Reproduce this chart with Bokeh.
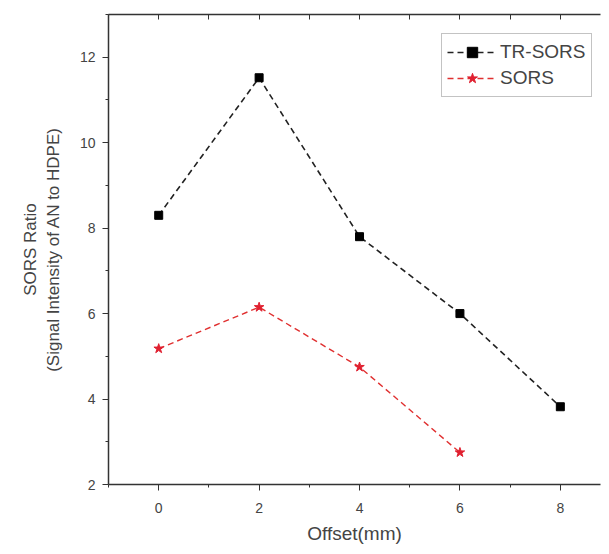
from bokeh.plotting import figure
from bokeh.models import LinearAxis, Legend, LegendItem, Range1d, FixedTicker
from bokeh.embed import file_html
from bokeh.resources import INLINE

offset_tr = [0, 2, 4, 6, 8]
tr_sors = [8.3, 11.52, 7.8, 6.0, 3.82]
offset_s = [0, 2, 4, 6]
sors = [5.18, 6.15, 4.75, 2.75]
x_ticks = [0, 2, 4, 6, 8]
x_minor = [-1, 1, 3, 5, 7, 9]
y_ticks = [2, 4, 6, 8, 10, 12]
y_minor = [3, 5, 7, 9, 11, 13]

FONT = "Liberation Sans"
TXT = "#444444"
AX = "#333333"

p = figure(width=601, height=546, output_backend="svg", toolbar_location=None,
           x_range=Range1d(-1, 8.8), y_range=Range1d(2, 13),
           min_border_left=108, min_border_right=1, min_border_top=14, min_border_bottom=62,
           x_axis_label="Offset(mm)",
           y_axis_label="SORS Ratio\n(Signal Intensity of AN to HDPE)")
p.outline_line_color = None
p.xgrid.visible = False
p.ygrid.visible = False

for ax in (p.xaxis[0], p.yaxis[0]):
    ax.axis_line_color = AX
    ax.axis_line_width = 1.5
    ax.major_tick_line_color = AX
    ax.minor_tick_line_color = AX
    ax.major_tick_out = 6
    ax.major_tick_in = 0
    ax.minor_tick_out = 3
    ax.minor_tick_in = 0
    ax.major_label_text_font = FONT
    ax.major_label_text_font_size = "14px"
    ax.major_label_text_color = TXT
    ax.axis_label_text_font = FONT
    ax.axis_label_text_font_style = "normal"
    ax.axis_label_text_color = TXT

p.xaxis[0].axis_label_text_font_size = "19px"
p.yaxis[0].axis_label_text_font_size = "17px"
p.xaxis[0].ticker = FixedTicker(ticks=x_ticks, minor_ticks=x_minor)
p.yaxis[0].ticker = FixedTicker(ticks=y_ticks, minor_ticks=y_minor)
p.xaxis[0].major_label_standoff = 12
p.xaxis[0].axis_label_standoff = 7
p.yaxis[0].major_label_standoff = 7
p.yaxis[0].axis_label_standoff = 14

top = LinearAxis(ticker=FixedTicker(ticks=[], minor_ticks=x_ticks + x_minor))
top.axis_line_color = AX
top.axis_line_width = 1.5
top.minor_tick_in = 5
top.minor_tick_out = 0
top.minor_tick_line_color = AX
top.major_tick_in = 0
top.major_tick_out = 0
p.add_layout(top, "above")

l1 = p.line(offset_tr, tr_sors, line_color="#222222", line_dash="6 4", line_width=1.6)
m1 = p.scatter(offset_tr, tr_sors, marker="square", size=8, color="black")
l2 = p.line(offset_s, sors, line_color="#e03030", line_dash="6 4", line_width=1.4)
m2 = p.scatter(offset_s, sors, marker="star", size=10, color="#e02030")

legend = Legend(items=[LegendItem(label="TR-SORS", renderers=[l1, m1]),
                       LegendItem(label="SORS", renderers=[l2, m2])],
                location=(333, 387))
legend.label_text_font = FONT
legend.label_text_font_size = "19px"
legend.label_text_color = TXT
legend.border_line_color = "#888888"
legend.border_line_width = 1.2
legend.glyph_width = 50
legend.glyph_height = 26
legend.label_standoff = 3
legend.label_height = 26
legend.spacing = 0
legend.padding = 5
legend.margin = 0
legend.background_fill_alpha = 1.0
p.add_layout(legend)

open("out.html", "w").write(file_html(p, INLINE))
